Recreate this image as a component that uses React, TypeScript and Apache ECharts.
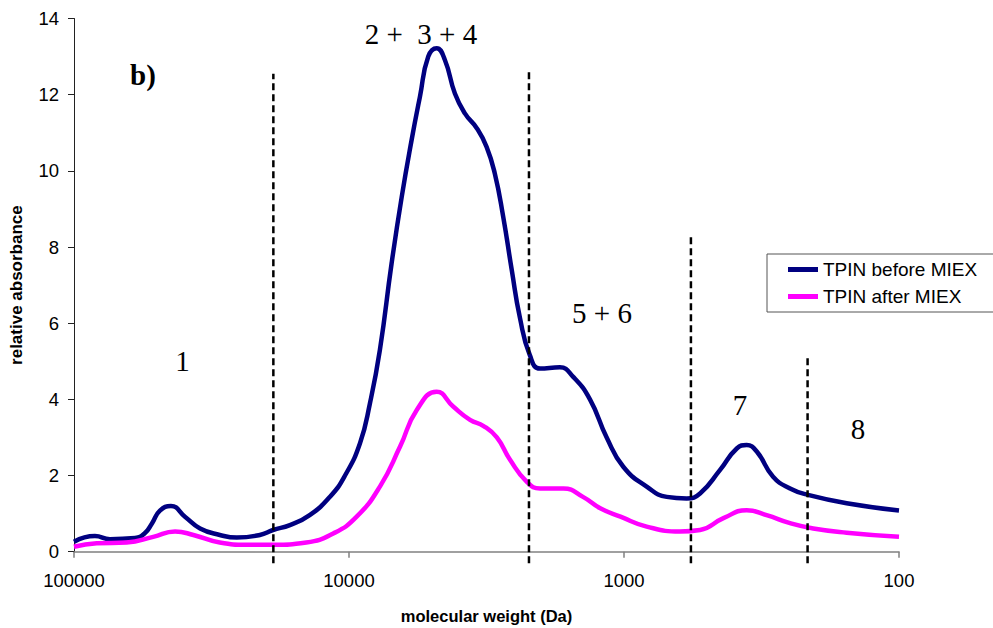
import React, { useEffect, useRef } from "react";
import * as echarts from "echarts";

// Molecular weight (Da) and relative absorbance
const beforeMW = [100000, 83900, 74000, 60000, 55200, 52000, 48700, 44400, 39500, 34800, 29500, 25600, 21100, 18900, 16400, 13900, 11700, 10340, 9120, 8390, 7720, 7000, 6430, 5920, 5520, 5150, 4800, 4480, 4120, 3790, 3430, 3160, 2950, 2750, 2560, 2390, 2200, 2020, 1710, 1530, 1330, 1156, 1006, 827, 699, 592, 529, 448, 389, 358, 329, 287, 249, 214, 155, 100];
const beforeAbs = [0.26, 0.41, 0.33, 0.36, 0.49, 0.75, 1.08, 1.2, 0.92, 0.61, 0.44, 0.37, 0.44, 0.57, 0.7, 0.96, 1.45, 2.0, 2.85, 3.9, 5.3, 7.57, 9.32, 10.81, 11.95, 13.0, 13.22, 12.91, 12.03, 11.51, 11.12, 10.63, 9.93, 8.8, 7.4, 6.14, 5.16, 4.81, 4.84, 4.59, 4.0, 3.0, 2.23, 1.71, 1.44, 1.4, 1.53, 2.14, 2.71, 2.8, 2.63, 1.97, 1.66, 1.49, 1.27, 1.08];

const afterMW = [100000, 82700, 64300, 51500, 42900, 36800, 29500, 23600, 18900, 14300, 11400, 9380, 7720, 6520, 5670, 4800, 4180, 3630, 3240, 2900, 2600, 2260, 2020, 1660, 1410, 1220, 1030, 827, 626, 529, 435, 358, 303, 249, 205, 155, 100];
const afterAbs = [0.13, 0.22, 0.24, 0.39, 0.53, 0.44, 0.24, 0.18, 0.18, 0.24, 0.48, 0.92, 1.71, 2.76, 3.72, 4.2, 3.81, 3.46, 3.3, 3.0, 2.42, 1.84, 1.66, 1.66, 1.44, 1.14, 0.92, 0.66, 0.53, 0.57, 0.88, 1.09, 0.96, 0.75, 0.61, 0.5, 0.39];

// Fraction dividers
const dividerMW = [18840, 2216, 571, 215];
const dividerTop = [12.55, 12.6, 8.28, 5.11];
const dividerBottom = -0.3;

const xTicks = [100000, 10000, 1000, 100];
const seriesNames = ["TPIN before MIEX", "TPIN after MIEX"];

// Fraction labels
const fractionLabels = ["b)", "2 +  3 + 4", "1", "5 + 6", "7", "8"];

const SANS = "'Liberation Sans', Arial, sans-serif";
const SERIF = "'Liberation Serif', 'Times New Roman', serif";

export default function App() {
  const ref = useRef<HTMLDivElement>(null);

  useEffect(() => {
    if (!ref.current) return;
    const chart = echarts.init(ref.current, null, { renderer: "svg" });

    const labelPos: Array<[number, number, boolean]> = [
      [143, 75, true],
      [421, 34, false],
      [182.5, 361, false],
      [602, 313, false],
      [740, 405, false],
      [858, 429, false],
    ];

    const option: any = {
      animation: false,
      backgroundColor: "#fff",
      grid: { left: 74, right: 94, top: 18.5, bottom: 76.3, containLabel: false, outerBoundsMode: "none" },
      legend: {
        data: seriesNames,
        orient: "vertical",
        left: 767,
        top: 254,
        padding: [6, 60, 6, 21],
        itemGap: 8,
        itemWidth: 30,
        itemHeight: 5,
        icon: "rect",
        backgroundColor: "#fff",
        borderColor: "#555",
        borderWidth: 1,
        borderRadius: 0,
        textStyle: { fontSize: 19, fontFamily: SANS, color: "#000" },
      },
      xAxis: {
        type: "log",
        logBase: 10,
        min: 100,
        max: 100000,
        inverse: true,
        name: "molecular weight (Da)",
        nameLocation: "middle",
        nameGap: 56,
        nameTextStyle: { fontSize: 16.5, fontWeight: "bold", fontFamily: SANS, color: "#000" },
        axisLine: { lineStyle: { color: "#808080", width: 1.5 } },
        axisTick: { show: true, length: 6, lineStyle: { color: "#808080", width: 1.5 } },
        minorTick: { show: false },
        splitLine: { show: false },
        axisLabel: {
          fontSize: 18.5,
          fontFamily: SANS,
          color: "#000",
          margin: 19,
          formatter: (v: number) => {
            const r = Math.round(v);
            return xTicks.includes(r) ? String(r) : "";
          },
        },
      },
      yAxis: {
        type: "value",
        min: 0,
        max: 14,
        interval: 2,
        name: "relative absorbance",
        nameLocation: "middle",
        nameGap: 49,
        nameTextStyle: { fontSize: 17, fontWeight: "bold", fontFamily: SANS, color: "#000" },
        axisLine: { show: true, lineStyle: { color: "#222", width: 1 } },
        axisTick: { show: true, length: 6, lineStyle: { color: "#222", width: 1 } },
        splitLine: { show: false },
        axisLabel: { fontSize: 18.5, fontFamily: SANS, color: "#000", margin: 15 },
      },
      series: [
        {
          type: "line",
          name: seriesNames[0],
          data: beforeMW.map((m, i) => [m, beforeAbs[i]]),
          smooth: 0.5,
          showSymbol: false,
          symbol: "none",
          lineStyle: { color: "#000080", width: 4.5 },
          itemStyle: { color: "#000080" },
          z: 3,
        },
        {
          type: "line",
          name: seriesNames[1],
          data: afterMW.map((m, i) => [m, afterAbs[i]]),
          smooth: 0.5,
          showSymbol: false,
          symbol: "none",
          lineStyle: { color: "#FF00FF", width: 4.5 },
          itemStyle: { color: "#FF00FF" },
          z: 3,
        },
        ...dividerMW.map((m, i) => ({
          type: "line",
          name: "divider" + i,
          data: [
            [m, dividerBottom],
            [m, dividerTop[i]],
          ],
          symbol: "none",
          clip: false,
          silent: true,
          lineStyle: { color: "#000", width: 2.5, type: [7, 4] },
          z: 4,
        })),
      ],
      graphic: fractionLabels.map((t, i) => ({
        type: "text",
        x: labelPos[i][0],
        y: labelPos[i][1],
        silent: true,
        style: {
          text: t,
          fontSize: 29,
          fontFamily: SERIF,
          fontWeight: labelPos[i][2] ? "bold" : "normal",
          fill: "#000",
          align: "center",
          verticalAlign: "middle",
        },
      })),
    };

    chart.setOption(option);
    return () => chart.dispose();
  }, []);

  return (
    <div
      ref={ref}
      style={{ position: "fixed", left: 0, top: 0, width: 993, height: 628, background: "#fff" }}
    />
  );
}
